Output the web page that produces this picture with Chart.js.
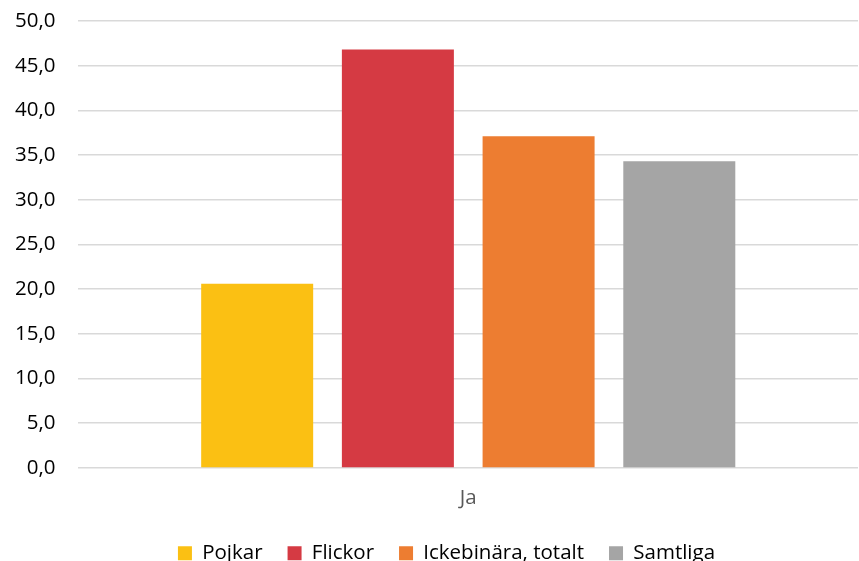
<!DOCTYPE html>
<html>
<head>
<meta charset="utf-8">
<script src="https://cdn.jsdelivr.net/npm/chart.js@4"></script>
<style>
  html, body { margin: 0; padding: 0; background: #fff; }
  #wrap { width: 859px; height: 561px; }
</style>
</head>
<body>
<div id="wrap"><canvas id="chart"></canvas></div>
<script>
const categories = ['Ja'];
const seriesNames = ['Pojkar', 'Flickor', 'Ickebinära, totalt', 'Samtliga'];
const pojkar = [20.6];
const flickor = [46.8];
const ickebinara = [37.1];
const samtliga = [34.3];
const colors = ['#FBC013', '#D53A43', '#ED7D31', '#A5A5A5'];

const values = [pojkar, flickor, ickebinara, samtliga];

// nudge the legend box a bit right and down after layout
const legendNudge = {
  id: 'legendNudge',
  afterLayout(chart) {
    const lg = chart.legend;
    if (!lg) return;
    lg.left += 10; lg.right += 10;
    lg.top += 7.5; lg.bottom += 7.5;
  }
};

new Chart(document.getElementById('chart'), {
  type: 'bar',
  data: {
    labels: categories,
    datasets: seriesNames.map((name, i) => ({
      label: name,
      data: values[i],
      backgroundColor: colors[i],
      categoryPercentage: 0.722,
      barPercentage: 0.796
    }))
  },
  plugins: [legendNudge],
  options: {
    responsive: true,
    maintainAspectRatio: false,
    animation: false,
    layout: { padding: { top: 21, right: 1, left: 15, bottom: -5 } },
    plugins: {
      tooltip: { enabled: false },
      legend: {
        position: 'bottom',
        labels: {
          color: '#000',
          font: { family: 'Open Sans', size: 20.5 },
          boxWidth: 14,
          boxHeight: 14,
          padding: 25
        }
      }
    },
    scales: {
      x: {
        // tick marks are hidden, tickLength only spaces the label
        grid: { display: false, drawTicks: true, tickLength: 18 },
        border: { display: false },
        ticks: {
          color: '#595959',
          font: { family: 'Open Sans', size: 20.5 },
          padding: 0
        }
      },
      y: {
        min: 0,
        max: 50,
        ticks: {
          stepSize: 5,
          color: '#000',
          padding: 0,
          font: { family: 'Open Sans', size: 20.5 },
          callback: v => v.toFixed(1).replace('.', ',')
        },
        grid: {
          color: '#d9d9d9',
          lineWidth: 1.5,
          drawTicks: true,
          tickLength: 23,
          tickColor: 'rgba(0,0,0,0)'
        },
        border: { display: false }
      }
    }
  }
});
</script>
</body>
</html>
